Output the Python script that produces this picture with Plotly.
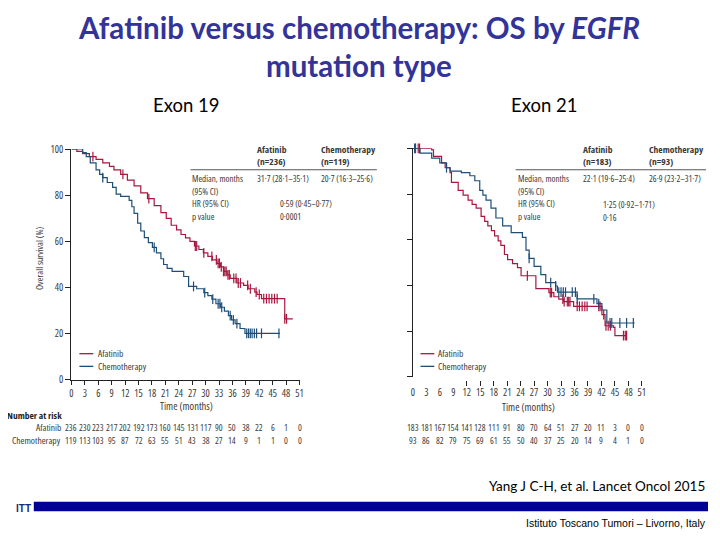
import numpy as np
import plotly.graph_objects as go

# ---------------- DATA ----------------
months_ticks = list(range(0, 52, 3))
surv_ticks = [0, 20, 40, 60, 80, 100]

# Exon 19 - Afatinib (step change points)
e19_afa_t = [0, 1.2, 2.5, 4.0, 5.5, 7.0, 8.5, 9.5, 11.0, 12.5, 14.0, 15.5, 17.0, 18.5, 20.0, 21.2, 22.3,
             23.5, 24.5, 25.5, 26.5, 27.5, 28.5, 29.5, 30.5, 31.5, 32.5, 33.3, 34.0, 34.8, 35.5, 37.0,
             38.5, 39.5, 41.0, 41.5, 42.5, 46.2, 47.7, 49.5]
e19_afa_s = [100, 99, 98, 96.7, 95.5, 94, 92.5, 91, 89, 86.5, 84, 81, 78.5, 75.5, 72.5, 70, 67,
             65, 63, 61.5, 60, 58, 56.5, 55, 53.5, 52, 50.5, 49, 47, 45.5, 44, 42,
             41, 39.5, 38, 37, 35.2, 35.2, 26.5, 26.5]
e19_afa_cens = [4.8, 11.5, 17.3, 27.7, 28.0, 29.6, 31.4, 32.4, 32.8, 33.1, 33.5, 34.0, 34.3, 34.6, 35.0,
                35.3, 36.3, 36.8, 37.3, 37.8, 39.4, 40.0, 41.3, 42.0, 43.0, 43.6, 44.2, 44.8, 45.4, 46.0,
                47.7, 48.1]

# Exon 19 - Chemotherapy
e19_chemo_t = [0, 2.5, 3.3, 4.2, 5.5, 6.3, 7.0, 8.0, 9.2, 10.0, 11.0, 12.9, 13.5, 14.0, 14.8, 15.5,
               16.3, 17.2, 18.1, 19.0, 20.0, 20.6, 21.4, 22.5, 25.1, 26.2, 28.0, 29.6, 30.5, 31.4,
               32.3, 33.3, 34.2, 35.1, 35.8, 36.6, 37.7, 38.8, 46.6]
e19_chemo_s = [100, 98.5, 96.7, 94, 91, 89, 87.6, 85.5, 83.4, 80.5, 79.5, 77.8, 75, 72.1, 67.9, 64.5,
               61.6, 59.5, 57.4, 55, 52.5, 50, 48.3, 47, 44.8, 40.5, 39.5, 37.8, 36.5, 35,
               33, 31.5, 29.8, 27.9, 26, 24.4, 22.3, 20.2, 20.2]
e19_chemo_cens = [7.0, 18.5, 27.3, 29.8, 31.6, 32.8, 33.2, 33.6, 35.5, 36.2, 37.0, 39.2, 39.6, 40.0,
                  40.4, 40.9, 41.4, 42.5, 46.4]

# Exon 21 - Afatinib
e21_afa_t = [0, 4.2, 4.6, 6.4, 7.2, 8.3, 8.6, 10.1, 11.2, 12.3, 13.2, 14.1, 15.2, 16.0, 16.7, 17.5,
             18.2, 19.0, 19.6, 20.4, 21.1, 22.2, 23.3, 24.1, 27.4, 30.3, 31.4, 32.5, 33.6, 35.8,
             41.7, 42.1, 42.8, 44.7, 45.0, 47.6]
e21_afa_s = [100, 99.3, 96.5, 93.6, 91.5, 89.4, 85.1, 81.6, 79.5, 77.3, 75.5, 73.8, 70.2, 68, 66, 64,
             61.7, 59.5, 57.5, 53.5, 51.3, 49.5, 47.8, 44.2, 38.6, 36.8, 35, 34, 32.9, 30.8,
             30.8, 27.2, 22.3, 21.6, 18, 18]
e21_afa_cens = [0.6, 1.2, 1.5, 25.5, 30.6, 30.9, 33.4, 33.7, 34.4, 34.7, 35.0, 36.6, 37.1, 37.7, 38.3,
                38.8, 41.4, 41.7, 42.5, 43.0, 43.5, 44.0, 46.9, 47.3, 47.6]

# Exon 21 - Chemotherapy
e21_chemo_t = [0, 1.6, 4.2, 6.0, 7.5, 8.3, 10.8, 12.7, 13.8, 14.9, 15.6, 16.3, 17.4, 18.5, 20.0,
               21.9, 24.4, 25.2, 25.9, 27.0, 28.5, 29.6, 31.8, 32.2, 35.8, 36.6, 40.2, 41.0, 42.1,
               43.2, 49.4]
e21_chemo_s = [100, 97.9, 95.7, 93.6, 91.5, 90, 89.4, 88, 85.8, 81.6, 79.5, 77.3, 73.8, 69.5, 66,
               63.1, 61, 55.4, 51.8, 48.3, 44.7, 41.2, 39.7, 37, 37, 34.1, 34.1, 32, 29.2,
               23.5, 23.5]
e21_chemo_cens = [0.4, 7.5, 25.9, 30.7, 31.8, 32.5, 33.0, 33.5, 34.0, 35.5, 36.2, 36.6, 40.3, 41.4,
                  43.9, 44.3, 46.1, 47.6, 49.1]

# Numbers at risk
risk_e19_afa = [236, 230, 223, 217, 202, 192, 173, 160, 145, 131, 117, 90, 50, 38, 22, 6, 1, 0]
risk_e19_chemo = [119, 113, 103, 95, 87, 72, 63, 55, 51, 43, 38, 27, 14, 9, 1, 1, 0, 0]
risk_e21_afa = [183, 181, 167, 154, 141, 128, 111, 91, 80, 70, 64, 51, 27, 20, 11, 3, 0, 0]
risk_e21_chemo = [93, 86, 82, 79, 75, 69, 61, 55, 50, 40, 37, 25, 20, 14, 9, 4, 1, 0]

# ---------------- STYLE ----------------
RED = "#A8173F"
BLUE = "#1C4E78"
COND = "Open Sans, Roboto Condensed, sans-serif"
TXT = "#3a3a3a"
OFF = 8                     # page body margin
W, H = 720 - 2 * OFF, 540 - 2 * OFF


def px_x(p):
    return (p - OFF) / W


def px_y(p):
    return 1 - (p - OFF) / H


def cond(s):
    return f'<span style="font-stretch:condensed">{s}</span>'


def step_at(ts, ss, times):
    ts = np.asarray(ts)
    ss = np.asarray(ss)
    idx = np.searchsorted(ts, np.asarray(times), side="right") - 1
    idx = np.clip(idx, 0, len(ss) - 1)
    return ss[idx]


fig = go.Figure()


def add_km(t, s, cens, color, xa, ya):
    fig.add_trace(go.Scatter(x=t, y=s, mode="lines", line=dict(color=color, width=1.2, shape="hv"),
                             xaxis=xa, yaxis=ya, showlegend=False, cliponaxis=False, hoverinfo="skip"))
    fig.add_trace(go.Scatter(x=cens, y=step_at(t, s, cens), mode="markers",
                             marker=dict(symbol="line-ns", size=7, line=dict(color=color, width=1.2)),
                             xaxis=xa, yaxis=ya, showlegend=False, cliponaxis=False, hoverinfo="skip"))


add_km(e19_afa_t, e19_afa_s, e19_afa_cens, RED, "x", "y")
add_km(e19_chemo_t, e19_chemo_s, e19_chemo_cens, BLUE, "x", "y")
add_km(e21_afa_t, e21_afa_s, e21_afa_cens, RED, "x2", "y2")
add_km(e21_chemo_t, e21_chemo_s, e21_chemo_cens, BLUE, "x2", "y2")
# invisible trace to hold the tick-only overlay axis
fig.add_trace(go.Scatter(x=[0], y=[0], mode="markers", marker=dict(opacity=0), xaxis="x3", yaxis="y2",
                         showlegend=False, hoverinfo="skip"))

axis_common = dict(showgrid=False, zeroline=False, linecolor="#222222", linewidth=1.2,
                   tickcolor="#222222", tickangle=0, tickfont=dict(family=COND, size=10, color=TXT))
xtext = [cond(str(m)) for m in months_ticks]
ytext = [cond(str(v)) for v in surv_ticks]

L_dom_x = [px_x(70), px_x(300)]
L_dom_y = [px_y(383), px_y(145.7)]
R_dom_x = [px_x(414.3), px_x(645.3)]
R_dom_y = [px_y(379.6), px_y(145)]

fig.update_layout(
    width=W, height=H, margin=dict(l=0, r=0, t=0, b=0),
    paper_bgcolor="white", plot_bgcolor="rgba(0,0,0,0)",
    xaxis=dict(domain=L_dom_x, range=[0, 51], anchor="y", tickvals=months_ticks, ticktext=xtext,
               ticks="outside", ticklen=4, showline=True, **axis_common),
    yaxis=dict(domain=L_dom_y, range=[0, 100], anchor="x", tickvals=surv_ticks, ticktext=ytext,
               ticks="outside", ticklen=5, showline=True, **axis_common),
    xaxis2=dict(domain=R_dom_x, range=[0, 51], anchor="y2", tickvals=months_ticks, ticktext=xtext,
                ticks="", showline=False, ticklabelstandoff=8, **axis_common),
    yaxis2=dict(domain=R_dom_y, range=[0, 100], anchor="x2", tickvals=surv_ticks,
                ticks="outside", ticklen=5, showline=True, showticklabels=False, **axis_common),
    xaxis3=dict(domain=R_dom_x, range=[0, 51], overlaying="x2", anchor="free", position=px_y(383),
                tickvals=months_ticks[4:], ticks="outside", ticklen=5, showline=False,
                showticklabels=False, **axis_common),
)

ann = []


def text(x, y, s, size=10, color=TXT, xanchor="left", family=COND, angle=0, condensed=True):
    ann.append(dict(x=px_x(x), y=px_y(y), xref="paper", yref="paper",
                    text=cond(s) if condensed else s, showarrow=False,
                    xanchor=xanchor, yanchor="middle", textangle=angle,
                    font=dict(family=family, size=size, color=color)))


# Title
TITLE_FONT = "Lato, Open Sans, sans-serif"
text(360, 21, "<b>Afatinib versus chemotherapy: OS by <i>EGFR</i></b>", 29.5, "#333399", "center",
     TITLE_FONT, condensed=False)
text(360, 60, "<b>mutation type</b>", 29.5, "#333399", "center", TITLE_FONT, condensed=False)
text(186, 100, "Exon 19", 18.5, "black", "center", TITLE_FONT, condensed=False)
text(547, 100, "Exon 21", 18.5, "black", "center", TITLE_FONT, condensed=False)

# Y axis title
text(38, 258, "Overall survival (%)", 9.5, TXT, "center", COND, -90)

# X axis titles
text(186, 410, "Time (months)", 10.5, TXT, "center")
text(531, 411, "Time (months)", 10.5, TXT, "center")

TH = 9.5   # header size
TS = 9     # body size
# Tables - left
text(255, 146, "<b>Afatinib</b>", TH)
text(255, 159, "<b>(n=236)</b>", TH)
text(320, 146, "<b>Chemotherapy</b>", TH)
text(320, 159, "<b>(n=119)</b>", TH)
text(190, 176, "Median, months", TS)
text(190, 189, "(95% CI)", TS)
text(190, 202, "HR (95% CI)", TS)
text(190, 215, "p value", TS)
text(255, 176, "31·7 (28·1–35·1)", TS)
text(320, 176, "20·7 (16·3–25·6)", TS)
text(278, 202, "0·59 (0·45–0·77)", TS)
text(278, 215, "0·0001", TS)

# Tables - right
text(584, 146, "<b>Afatinib</b>", TH)
text(584, 159, "<b>(n=183)</b>", TH)
text(650, 146, "<b>Chemotherapy</b>", TH)
text(650, 159, "<b>(n=93)</b>", TH)
text(518, 176, "Median, months", TS)
text(518, 189, "(95% CI)", TS)
text(518, 202, "HR (95% CI)", TS)
text(518, 215, "p value", TS)
text(584, 176, "22·1 (19·6–25·4)", TS)
text(650, 176, "26·9 (23·2–31·7)", TS)
text(604, 203, "1·25 (0·92–1·71)", TS)
text(604, 216, "0·16", TS)

# Legends
text(95, 356, "Afatinib", 9.5)
text(95, 369, "Chemotherapy", 9.5)
text(438, 356, "Afatinib", 9.5)
text(438, 369, "Chemotherapy", 9.5)

# Number at risk
text(3, 419, "<b>Number at risk</b>", 9.5, "#222222")
text(61, 432, "Afatinib", 9.5, TXT, "right")
text(61, 445, "Chemotherapy", 9.5, TXT, "right")
for i, m in enumerate(months_ticks):
    text(70 + m * 230 / 51, 432, str(risk_e19_afa[i]), 9, TXT, "center")
    text(70 + m * 230 / 51, 445, str(risk_e19_chemo[i]), 9, TXT, "center")
    text(414.3 + m * 231 / 51, 432, str(risk_e21_afa[i]), 9, TXT, "center")
    text(414.3 + m * 231 / 51, 445, str(risk_e21_chemo[i]), 9, TXT, "center")

# Footer
text(711, 492, "Yang J C-H, et al. Lancet Oncol 2015", 13.5, "black", "right", "Lato, sans-serif",
     condensed=False)
text(712, 530, "Istituto Toscano Tumori – Livorno, Italy", 10.5, "black", "right",
     "Liberation Sans, sans-serif", condensed=False)
text(22, 515, "<b>ITT</b>", 10, "#1a2a80", "center", "Liberation Sans, sans-serif", condensed=False)

fig.update_layout(annotations=ann)

shapes = [
    # table rules
    dict(type="line", xref="paper", yref="paper", x0=px_x(190), x1=px_x(378), y0=px_y(167), y1=px_y(167),
         line=dict(color="#555555", width=1)),
    dict(type="line", xref="paper", yref="paper", x0=px_x(518), x1=px_x(710), y0=px_y(167), y1=px_y(167),
         line=dict(color="#555555", width=1)),
    # legend swatches
    dict(type="line", xref="paper", yref="paper", x0=px_x(78), x1=px_x(92), y0=px_y(356), y1=px_y(356),
         line=dict(color=RED, width=1.3)),
    dict(type="line", xref="paper", yref="paper", x0=px_x(78), x1=px_x(92), y0=px_y(369), y1=px_y(369),
         line=dict(color=BLUE, width=1.3)),
    dict(type="line", xref="paper", yref="paper", x0=px_x(422), x1=px_x(436), y0=px_y(356), y1=px_y(356),
         line=dict(color=RED, width=1.3)),
    dict(type="line", xref="paper", yref="paper", x0=px_x(422), x1=px_x(436), y0=px_y(369), y1=px_y(369),
         line=dict(color=BLUE, width=1.3)),
    # footer bar
    dict(type="rect", xref="paper", yref="paper", x0=px_x(32), x1=1, y0=px_y(518), y1=px_y(508),
         fillcolor="#000099", line=dict(width=0)),
]
fig.update_layout(shapes=shapes)

fig.write_html("out.html")
